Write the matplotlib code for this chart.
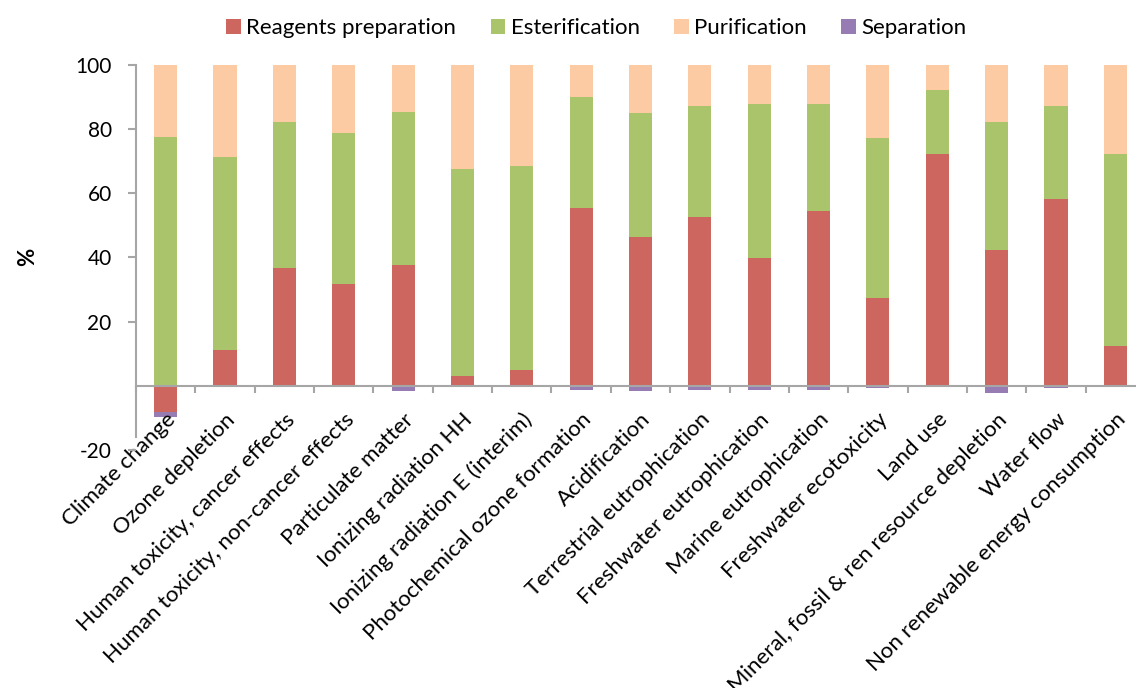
import matplotlib
matplotlib.use("Agg")
import matplotlib.pyplot as plt
import numpy as np


# data

categories = ["Climate change", "Ozone depletion", "Human toxicity, cancer effects",
              "Human toxicity, non-cancer effects", "Particulate matter",
              "Ionizing radiation HH", "Ionizing radiation E (interim)",
              "Photochemical ozone formation", "Acidification",
              "Terrestrial eutrophication", "Freshwater eutrophication",
              "Marine eutrophication", "Freshwater ecotoxicity", "Land use",
              "Mineral, fossil & ren resource depletion", "Water flow",
              "Non renewable energy consumption"]

reagents = [-8.1, 11.1, 36.6, 31.8, 37.7, 3.2, 5.0, 55.5, 46.2, 52.7, 39.9, 54.4, 27.3, 72.3, 42.2, 58.2, 12.3]
esterification = [77.6, 60.0, 45.7, 47.0, 47.7, 64.4, 63.6, 34.5, 38.9, 34.5, 47.8, 33.5, 49.8, 19.9, 40.0, 28.8, 59.8]
purification = [22.4, 28.9, 17.7, 21.2, 14.6, 32.4, 31.4, 10.0, 14.9, 12.8, 12.3, 12.1, 22.9, 7.8, 17.8, 13.0, 27.9]
separation = [-1.7, -0.1, -0.4, -0.3, -1.5, 0.0, 0.0, -1.3, -1.5, -1.3, -1.2, -1.2, -0.8, 0.0, -2.4, -0.6, 0.0]

series_names = ["Reagents preparation", "Esterification", "Purification", "Separation"]
colors = ["#CD665E", "#AAC46C", "#FCCAA3", "#977CB4"]

yticks = [-20, 20, 40, 60, 80, 100]


plt.rcParams['font.family'] = ['Lato', 'DejaVu Sans']

fig = plt.figure(figsize=(11.36, 6.88), dpi=100)
# the category axis runs a little past the right edge, as in the original
ax = fig.add_axes([136/1136, 1-450/688, 1009/1136, (450-64.7)/688])

x = np.arange(len(categories))
pos_bottom = np.zeros(len(categories))
neg_bottom = np.zeros(len(categories))

# stack positives upwards and negatives downwards, like excel does
for vals, name, col in zip([reagents, esterification, purification, separation], series_names, colors):
    vals = np.array(vals, dtype=float)
    bottom = np.where(vals >= 0, pos_bottom, neg_bottom)
    ax.bar(x, vals, width=0.39, bottom=bottom, color=col, label=name, edgecolor='none')
    pos_bottom = pos_bottom + np.where(vals >= 0, vals, 0)
    neg_bottom = neg_bottom + np.where(vals < 0, vals, 0)

ax.set_xlim(-0.5, len(categories)-0.5)
ax.set_ylim(-20, 100)

axis_col = "#A6A6A6"
for s in ['top', 'right']:
    ax.spines[s].set_visible(False)
ax.spines['bottom'].set_position(('data', 0))
ax.spines['bottom'].set_color(axis_col)
ax.spines['bottom'].set_linewidth(1.5)
ax.spines['left'].set_color(axis_col)
ax.spines['left'].set_linewidth(1.5)
ax.spines['left'].set_bounds(-16, 100)

ax.set_yticks(yticks)
ax.set_yticklabels([str(v) for v in yticks], fontsize=15)
ax.tick_params(axis='y', length=5.5, width=1.5, color=axis_col, pad=12)

ax.set_xticks(x)
ax.set_xticks(np.arange(len(categories)+1)-0.5, minor=True)
ax.tick_params(axis='x', which='major', length=0, pad=17)
ax.tick_params(axis='x', which='minor', length=5, width=1.5, color=axis_col)
ax.set_xticklabels(categories, fontsize=16, rotation=45, ha='right', va='top',
                   rotation_mode='anchor')

ax.set_ylabel('%', fontsize=16, fontweight='bold', labelpad=27)

leg = fig.legend(*ax.get_legend_handles_labels(), loc='center', bbox_to_anchor=(0.525, 0.959),
                 ncol=4, frameon=False, fontsize=16, handlelength=0.65, handleheight=0.65,
                 handletextpad=0.25, columnspacing=1.55)

fig.savefig('out.png', dpi=100)
